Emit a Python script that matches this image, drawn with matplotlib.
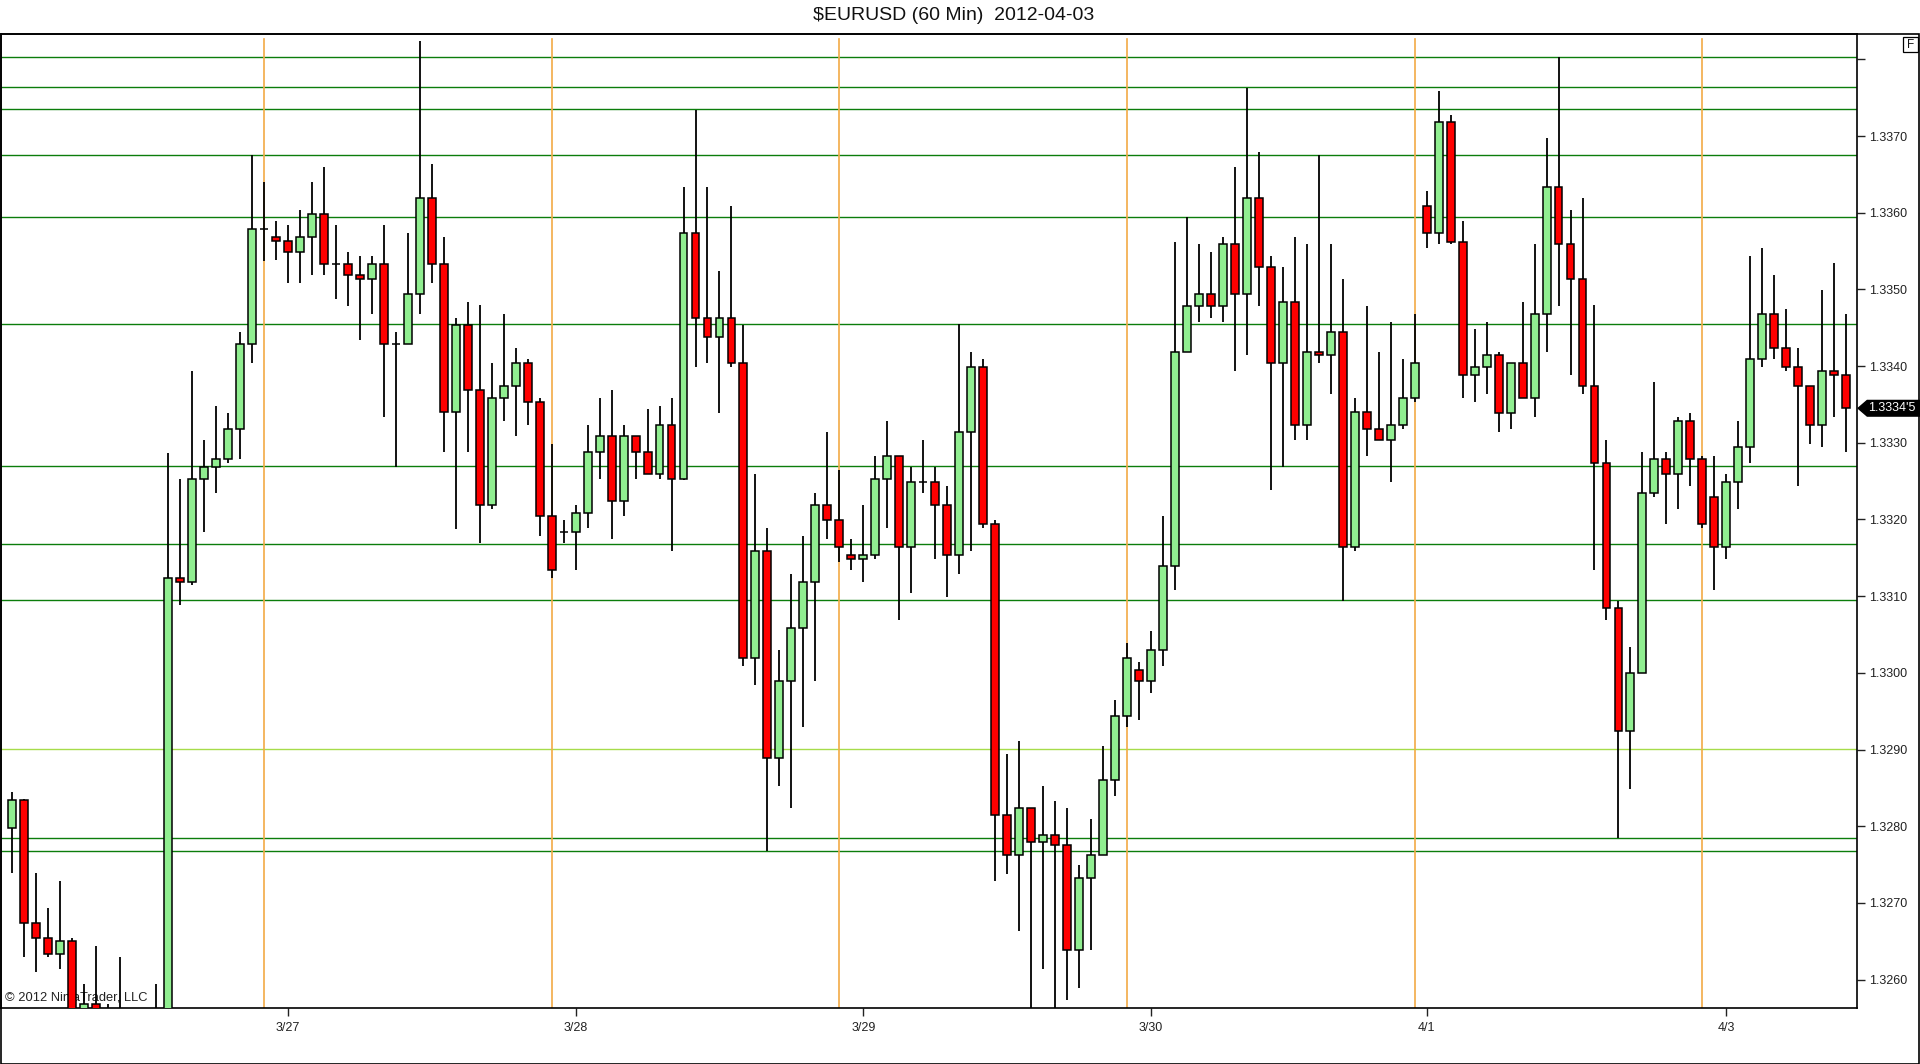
import numpy as np
import matplotlib
matplotlib.use("Agg")
import matplotlib.pyplot as plt
from matplotlib.patches import Rectangle, Polygon
from matplotlib.transforms import blended_transform_factory

plt.rcParams['font.family'] = ['Liberation Sans', 'DejaVu Sans']

# hourly bars, $EURUSD 60 min
opens = [1.32798, 1.32834, 1.32674, 1.32654, 1.32634, 1.32650, 1.32548, 1.32568, 1.32540, 1.32520,
         1.32500, 1.32470, 1.32490, 1.32510, 1.33124, 1.33119, 1.33253, 1.33269, 1.33279, 1.33318,
         1.33429, 1.33579, 1.33568, 1.33563, 1.33549, 1.33568, 1.33598, 1.33533, 1.33533, 1.33519,
         1.33514, 1.33533, 1.33429, 1.33429, 1.33494, 1.33619, 1.33533, 1.33340, 1.33454, 1.33369,
         1.33219, 1.33358, 1.33374, 1.33404, 1.33353, 1.33204, 1.33184, 1.33184, 1.33209, 1.33288,
         1.33309, 1.33224, 1.33309, 1.33288, 1.33259, 1.33323, 1.33253, 1.33573, 1.33463, 1.33438,
         1.33463, 1.33404, 1.33019, 1.33159, 1.32889, 1.32989, 1.33059, 1.33119, 1.33219, 1.33199,
         1.33154, 1.33149, 1.33154, 1.33253, 1.33283, 1.33164, 1.33249, 1.33249, 1.33219, 1.33154,
         1.33314, 1.33399, 1.33194, 1.32815, 1.32763, 1.32824, 1.32780, 1.32789, 1.32775, 1.32639,
         1.32733, 1.32763, 1.32860, 1.32944, 1.33004, 1.32989, 1.33030, 1.33139, 1.33418, 1.33478,
         1.33494, 1.33478, 1.33559, 1.33494, 1.33619, 1.33529, 1.33404, 1.33484, 1.33323, 1.33418,
         1.33414, 1.33444, 1.33164, 1.33340, 1.33318, 1.33304, 1.33323, 1.33358, 1.33609, 1.33573,
         1.33718, 1.33562, 1.33388, 1.33399, 1.33414, 1.33339, 1.33404, 1.33358, 1.33468, 1.33633,
         1.33559, 1.33514, 1.33374, 1.33274, 1.33084, 1.32924, 1.33000, 1.33234, 1.33279, 1.33259,
         1.33329, 1.33279, 1.33229, 1.33164, 1.33249, 1.33294, 1.33409, 1.33468, 1.33423, 1.33399,
         1.33374, 1.33323, 1.33393, 1.33388]

highs = [1.32845, 1.32836, 1.32739, 1.32694, 1.32729, 1.32654, 1.32594, 1.32644, 1.32568, 1.32629,
         1.32540, 1.32530, 1.32594, 1.33287, 1.33253, 1.33393, 1.33304, 1.33348, 1.33339, 1.33444,
         1.33675, 1.33640, 1.33589, 1.33584, 1.33604, 1.33640, 1.33659, 1.33584, 1.33549, 1.33544,
         1.33544, 1.33584, 1.33444, 1.33574, 1.33824, 1.33663, 1.33568, 1.33463, 1.33483, 1.33479,
         1.33404, 1.33468, 1.33423, 1.33409, 1.33358, 1.33299, 1.33199, 1.33219, 1.33323, 1.33358,
         1.33369, 1.33323, 1.33309, 1.33344, 1.33348, 1.33358, 1.33633, 1.33734, 1.33633, 1.33524,
         1.33609, 1.33454, 1.33259, 1.33189, 1.33030, 1.33129, 1.33179, 1.33234, 1.33314, 1.33264,
         1.33174, 1.33219, 1.33283, 1.33328, 1.33283, 1.33269, 1.33304, 1.33269, 1.33244, 1.33455,
         1.33418, 1.33409, 1.33199, 1.32894, 1.32911, 1.32824, 1.32853, 1.32833, 1.32824, 1.32749,
         1.32810, 1.32904, 1.32964, 1.33039, 1.33014, 1.33054, 1.33204, 1.33562, 1.33594, 1.33559,
         1.33549, 1.33568, 1.33659, 1.33763, 1.33679, 1.33544, 1.33529, 1.33568, 1.33559, 1.33675,
         1.33559, 1.33514, 1.33358, 1.33478, 1.33418, 1.33458, 1.33409, 1.33468, 1.33628, 1.33759,
         1.33728, 1.33589, 1.33449, 1.33458, 1.33418, 1.33404, 1.33484, 1.33559, 1.33698, 1.33803,
         1.33604, 1.33619, 1.33479, 1.33304, 1.33094, 1.33034, 1.33288, 1.33379, 1.33288, 1.33334,
         1.33339, 1.33283, 1.33283, 1.33259, 1.33329, 1.33544, 1.33554, 1.33519, 1.33474, 1.33423,
         1.33374, 1.33499, 1.33534, 1.33468]

lows = [1.32739, 1.32629, 1.32610, 1.32629, 1.32614, 1.32510, 1.32530, 1.32505, 1.32500, 1.32470,
        1.32440, 1.32430, 1.32460, 1.32500, 1.33089, 1.33114, 1.33184, 1.33234, 1.33274, 1.33279,
        1.33404, 1.33537, 1.33538, 1.33508, 1.33508, 1.33519, 1.33519, 1.33488, 1.33478, 1.33434,
        1.33468, 1.33334, 1.33269, 1.33429, 1.33468, 1.33508, 1.33288, 1.33188, 1.33288, 1.33169,
        1.33214, 1.33328, 1.33309, 1.33323, 1.33179, 1.33124, 1.33169, 1.33134, 1.33189, 1.33253,
        1.33174, 1.33204, 1.33253, 1.33259, 1.33253, 1.33159, 1.33251, 1.33399, 1.33404, 1.33339,
        1.33399, 1.33009, 1.32984, 1.32768, 1.32853, 1.32824, 1.32929, 1.32989, 1.33174, 1.33144,
        1.33134, 1.33119, 1.33149, 1.33189, 1.33069, 1.33104, 1.33234, 1.33149, 1.33099, 1.33129,
        1.33159, 1.33189, 1.32728, 1.32738, 1.32664, 1.32540, 1.32614, 1.32530, 1.32574, 1.32589,
        1.32639, 1.32763, 1.32839, 1.32929, 1.32939, 1.32974, 1.33009, 1.33108, 1.33418, 1.33458,
        1.33463, 1.33458, 1.33393, 1.33414, 1.33478, 1.33239, 1.33269, 1.33304, 1.33304, 1.33404,
        1.33364, 1.33094, 1.33159, 1.33283, 1.33304, 1.33249, 1.33318, 1.33353, 1.33554, 1.33559,
        1.33559, 1.33358, 1.33353, 1.33364, 1.33314, 1.33318, 1.33358, 1.33334, 1.33418, 1.33478,
        1.33388, 1.33364, 1.33134, 1.33069, 1.32785, 1.32848, 1.33000, 1.33229, 1.33194, 1.33214,
        1.33244, 1.33189, 1.33108, 1.33149, 1.33214, 1.33274, 1.33399, 1.33409, 1.33393, 1.33244,
        1.33299, 1.33294, 1.33334, 1.33288]

closes = [1.32834, 1.32674, 1.32654, 1.32634, 1.32650, 1.32530, 1.32568, 1.32520, 1.32530, 1.32500,
          1.32470, 1.32490, 1.32510, 1.33124, 1.33119, 1.33253, 1.33269, 1.33279, 1.33318, 1.33429,
          1.33579, 1.33579, 1.33563, 1.33549, 1.33568, 1.33598, 1.33533, 1.33533, 1.33519, 1.33514,
          1.33533, 1.33429, 1.33429, 1.33494, 1.33619, 1.33533, 1.33340, 1.33454, 1.33369, 1.33219,
          1.33358, 1.33374, 1.33404, 1.33353, 1.33204, 1.33134, 1.33184, 1.33209, 1.33288, 1.33309,
          1.33224, 1.33309, 1.33288, 1.33259, 1.33323, 1.33253, 1.33573, 1.33463, 1.33438, 1.33463,
          1.33404, 1.33019, 1.33159, 1.32889, 1.32989, 1.33059, 1.33119, 1.33219, 1.33199, 1.33164,
          1.33149, 1.33154, 1.33253, 1.33283, 1.33164, 1.33249, 1.33249, 1.33219, 1.33154, 1.33314,
          1.33399, 1.33194, 1.32815, 1.32763, 1.32824, 1.32780, 1.32789, 1.32775, 1.32639, 1.32733,
          1.32763, 1.32860, 1.32944, 1.33019, 1.32989, 1.33030, 1.33139, 1.33418, 1.33478, 1.33494,
          1.33478, 1.33559, 1.33494, 1.33619, 1.33529, 1.33404, 1.33484, 1.33323, 1.33418, 1.33414,
          1.33444, 1.33164, 1.33340, 1.33318, 1.33304, 1.33323, 1.33358, 1.33404, 1.33573, 1.33718,
          1.33562, 1.33388, 1.33399, 1.33414, 1.33339, 1.33404, 1.33358, 1.33468, 1.33633, 1.33559,
          1.33514, 1.33374, 1.33274, 1.33084, 1.32924, 1.33000, 1.33234, 1.33279, 1.33259, 1.33329,
          1.33279, 1.33194, 1.33164, 1.33249, 1.33294, 1.33409, 1.33468, 1.33423, 1.33399, 1.33374,
          1.33323, 1.33393, 1.33388, 1.33345]

# horizontal support / resistance lines
levels = [1.33803, 1.33764, 1.33735, 1.33675, 1.33595, 1.33455, 1.33270,
          1.33168, 1.33095, 1.32901, 1.32785, 1.32768]
level_colors = ['#0b7d0b'] * 9 + ['#a6dc4a'] + ['#0b7d0b'] * 2

day_bars = [21, 45, 69, 93, 117, 141]
date_bars = [23, 47, 71, 95, 118, 143]
date_labels = ['3/27', '3/28', '3/29', '3/30', '4/1', '4/3']

price_ticks = [1.3260, 1.3270, 1.3280, 1.3290, 1.3300, 1.3310, 1.3320,
               1.3330, 1.3340, 1.3350, 1.3360, 1.3370, 1.3380]
last_price = 1.33345
last_label = "1.3334'5"

W, H = 1920, 1064
fig = plt.figure(figsize=(W / 100, H / 100), dpi=100)
fig.patch.set_facecolor('white')
ax = fig.add_axes([1 / W, 56 / H, 1856 / W, 974 / H])

o = np.array(opens)
h = np.array(highs)
l = np.array(lows)
c = np.array(closes)
x = np.arange(len(o))

for lev, col in zip(levels, level_colors):
    ax.axhline(lev, color=col, lw=1.0, zorder=1)
for d in day_bars:
    ax.axvline(d, ymax=0.995, color='#f2aa45', lw=1.2, zorder=1)

ax.text(0.002, 0.004, '\u00a9 2012 NinjaTrader, LLC', transform=ax.transAxes,
        fontsize=9.3, color='#222222', va='bottom', ha='left', zorder=1.5)

# wicks
ax.vlines(x, l, h, color='black', lw=1.3, zorder=2)

# bodies
up = c > o
body_h = np.abs(c - o)
body_b = np.minimum(o, c)
is_doji = body_h < 1e-6
cols = np.where(up, '#90ee90', '#ff0000')
ax.bar(x[~is_doji], body_h[~is_doji], bottom=body_b[~is_doji], width=0.66,
       color=cols[~is_doji], edgecolor='black', linewidth=1.1, zorder=3)
ax.hlines(o[is_doji], x[is_doji] - 0.33, x[is_doji] + 0.33, color='black', lw=1.1, zorder=3)

ax.set_xlim(-0.94, 153.9)
ax.set_ylim(1.32563, 1.33833)

ax.yaxis.tick_right()
ax.set_yticks(price_ticks)
ax.set_yticklabels(['%.4f' % t if t < 1.3375 else '' for t in price_ticks])
ax.set_xticks(date_bars)
ax.set_xticklabels(date_labels)
ax.tick_params(axis='both', direction='out', length=6, width=1, labelsize=9,
               colors='#222222', pad=3)
ax.tick_params(axis='x', pad=4)
for s in ax.spines.values():
    s.set_color('black')
    s.set_linewidth(1.2)

# last price marker
tr = blended_transform_factory(ax.transAxes, ax.transData)
hh = 0.000102
marker = Polygon([[1.0006, last_price], [1.0055, last_price + hh], [1.0345, last_price + hh],
                  [1.0345, last_price - hh], [1.0055, last_price - hh]],
                 closed=True, transform=tr, facecolor='black', edgecolor='black',
                 clip_on=False, zorder=5)
ax.add_patch(marker)
ax.text(1.0062, last_price, last_label, transform=tr, color='white', fontsize=9,
        va='center', ha='left', clip_on=False, zorder=6)

# outer frame and title
fig.add_artist(Rectangle((0.5 / W, 0.5 / H), (W - 1.5) / W, (H - 34.5) / H,
                         transform=fig.transFigure, fill=False, edgecolor='black', lw=1.2))
fig.text(954 / W, 1 - 16 / H, '$EURUSD (60 Min)  2012-04-03', ha='center', va='center',
         fontsize=14, color='#111111')
fig.add_artist(Rectangle((1903 / W, 1 - 52 / H), 15 / W, 15 / H, transform=fig.transFigure,
                         facecolor='white', edgecolor='black', lw=0.9))
fig.text(1910.5 / W, 1 - 44.5 / H, 'F', ha='center', va='center', fontsize=8.5, color='#111111')

fig.savefig('out.png', dpi=100)
